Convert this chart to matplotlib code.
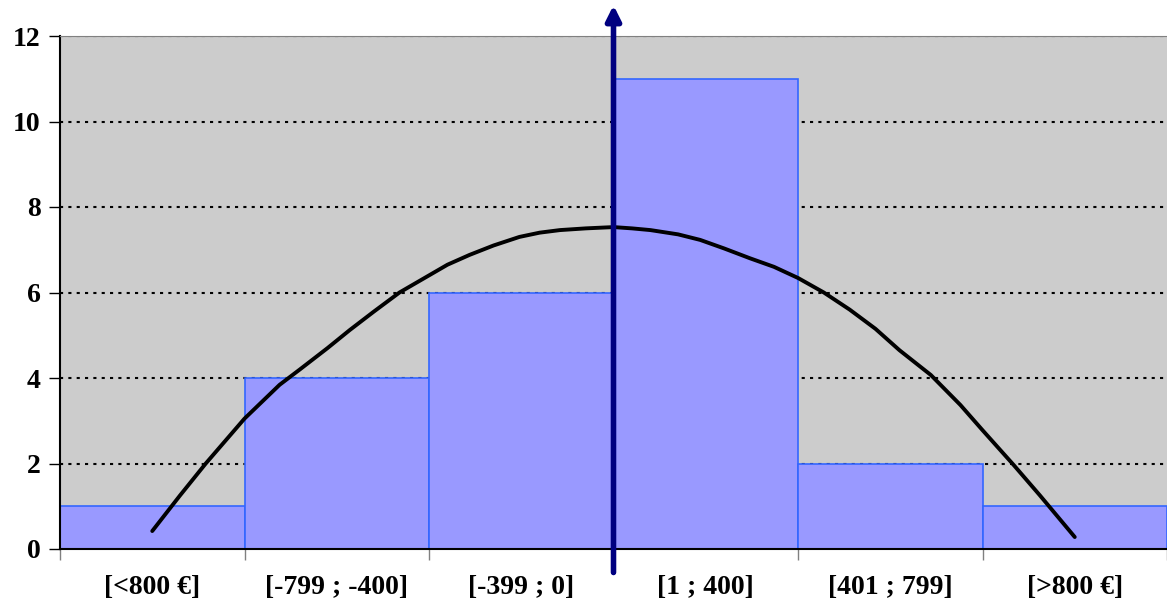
import matplotlib.pyplot as plt
import numpy as np

plt.rcParams['font.family'] = ['Liberation Serif', 'DejaVu Serif']
plt.rcParams['font.weight'] = 'bold'

# classes and counts
classes = ['[<800 €]', '[-799 ; -400]', '[-399 ; 0]', '[1 ; 400]', '[401 ; 799]', '[>800 €]']
counts = [1, 4, 6, 11, 2, 1]

# fitted curve (x in class units)
curve_x = [0.0, 0.15, 0.29, 0.5, 0.69, 0.8, 0.95, 1.07, 1.2, 1.34, 1.5, 1.6, 1.72, 1.85,
           1.99, 2.1, 2.21, 2.35, 2.5, 2.6, 2.7, 2.85, 2.97, 3.1, 3.24, 3.37, 3.5,
           3.64, 3.78, 3.92, 4.05, 4.22, 4.38, 4.5, 4.67, 4.81, 5.0]
curve_y = [0.42, 1.25, 2.0, 3.05, 3.84, 4.2, 4.7, 5.12, 5.55, 6.0, 6.4, 6.65, 6.88, 7.1,
           7.3, 7.4, 7.46, 7.5, 7.53, 7.5, 7.46, 7.36, 7.23, 7.03, 6.8, 6.6, 6.34,
           6.0, 5.6, 5.15, 4.65, 4.07, 3.37, 2.78, 1.96, 1.26, 0.28]

fig = plt.figure(figsize=(11.67, 6.08), dpi=100)
ax = fig.add_axes([60 / 1167, 59 / 608, 1107 / 1167, 513 / 608])
ax.set_facecolor('#CCCCCC')

x = np.arange(len(classes))
ax.bar(x, counts, width=1.0, color='#9999FF', edgecolor='#3366FF', linewidth=1.2, zorder=2)
ax.plot(curve_x, curve_y, color='black', lw=2.8, zorder=3,
        solid_capstyle='round', solid_joinstyle='round')

ax.set_xlim(-0.5, 5.5)
ax.set_ylim(0, 12)
ax.set_yticks(range(0, 13, 2))
ax.yaxis.grid(True, color='black', linestyle=(0, (1.5, 2.5)), lw=1.5, zorder=1)
ax.set_axisbelow(True)

ax.set_xticks(x)
ax.set_xticklabels(classes)
ax.set_xticks(np.arange(-0.5, 5.6, 1), minor=True)
ax.tick_params(axis='x', which='major', length=0, pad=19, labelsize=20)
ax.tick_params(axis='x', which='minor', length=8, color='#808080', width=1)
ax.tick_params(axis='y', length=8, width=1, labelsize=20, pad=6)

ax.spines['top'].set_color('#808080')
ax.spines['right'].set_visible(False)
ax.spines['left'].set_linewidth(1.5)
ax.spines['bottom'].set_linewidth(1.5)

# vertical arrow at zero
ax.annotate('', xy=(2.5, 12.72), xytext=(2.5, -0.55),
            arrowprops=dict(arrowstyle='-|>', color='#000080', lw=4,
                            mutation_scale=22, shrinkA=0, shrinkB=0),
            annotation_clip=False, zorder=5)

fig.savefig('out.png', dpi=100)
